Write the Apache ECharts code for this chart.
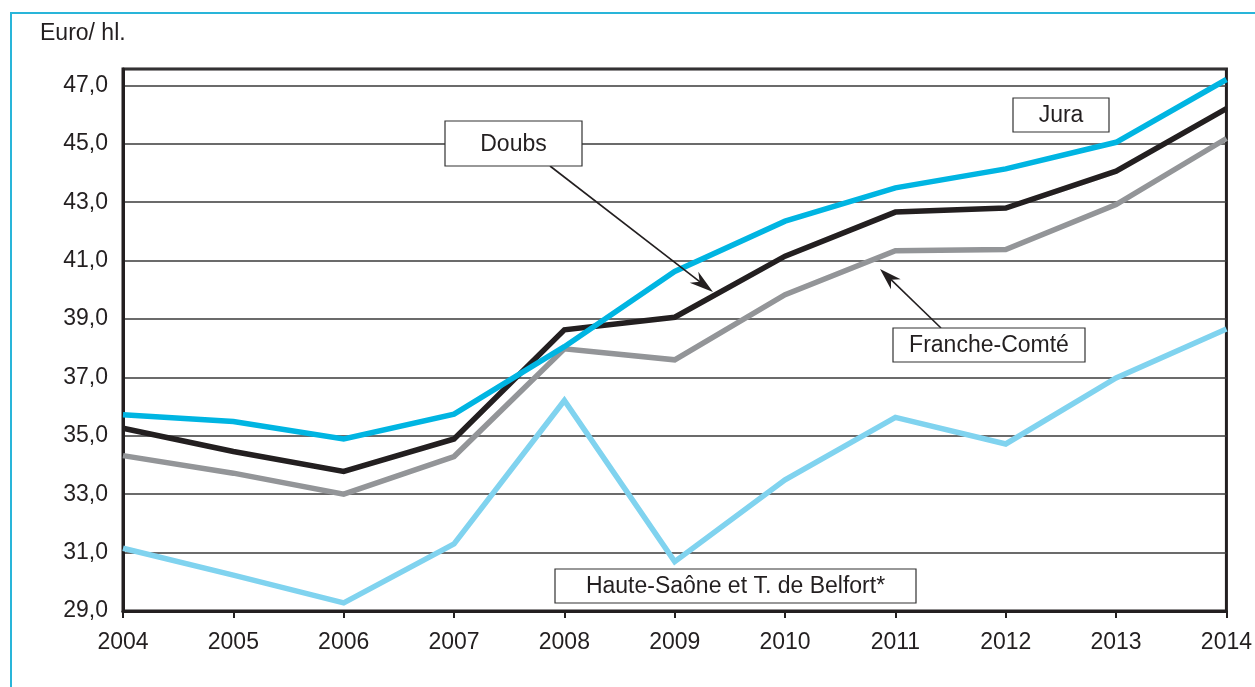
<!DOCTYPE html>
<html>
<head>
<meta charset="utf-8">
<script src="https://cdn.jsdelivr.net/npm/echarts@6/dist/echarts.min.js"></script>
<style>
  html, body { margin: 0; padding: 0; background: #fff; }
  #main { width: 1255px; height: 687px; }
</style>
</head>
<body>
<div id="main"></div>
<script>
var years = ['2004', '2005', '2006', '2007', '2008', '2009', '2010', '2011', '2012', '2013', '2014'];
var jura = [35.72, 35.49, 34.89, 35.74, 38.05, 40.63, 42.35, 43.49, 44.14, 45.05, 47.2];
var doubs = [35.26, 34.46, 33.78, 34.89, 38.63, 39.06, 41.15, 42.66, 42.8, 44.06, 46.2];
var franche = [34.32, 33.72, 33.0, 34.29, 37.98, 37.6, 39.83, 41.34, 41.38, 42.92, 45.18];
var haute = [31.15, 30.23, 29.28, 31.3, 36.21, 30.69, 33.49, 35.63, 34.72, 36.98, 38.66];
var yTicks = [29, 31, 33, 35, 37, 39, 41, 43, 45, 47];

var dark = '#231f20';
var font = 'Liberation Sans, Arial, sans-serif';

var myChart = echarts.init(document.getElementById('main'));

function arrow(x1, y1, x2, y2, len, half) {
    var dx = x2 - x1, dy = y2 - y1;
    var d = Math.sqrt(dx * dx + dy * dy);
    var ux = dx / d, uy = dy / d;
    var bx = x2 - ux * len, by = y2 - uy * len;
    var nx = -uy, ny = ux;
    return [{
        type: 'line',
        shape: { x1: x1, y1: y1, x2: x2 - ux * len * 0.6, y2: y2 - uy * len * 0.6 },
        style: { stroke: dark, lineWidth: 1.6 },
        z: 10
    }, {
        type: 'polygon',
        shape: { points: [[x2, y2], [bx + nx * half, by + ny * half], [x2 - ux * len * 0.7, y2 - uy * len * 0.7], [bx - nx * half, by - ny * half]] },
        style: { fill: dark },
        z: 10
    }];
}

function labelBox(x, y, w, h, text) {
    return [{
        type: 'rect',
        shape: { x: x, y: y, width: w, height: h },
        style: { fill: '#fff', stroke: '#333', lineWidth: 1.2 },
        z: 10
    }, {
        type: 'text',
        x: x + w / 2,
        y: y + h / 2 + 1,
        style: { text: text, fill: dark, font: '23px ' + font, textAlign: 'center', textVerticalAlign: 'middle' },
        z: 11
    }];
}

var graphics = [{
    type: 'rect',
    shape: { x: 11, y: 13, width: 1300, height: 720 },
    style: { fill: 'none', stroke: '#29b5d9', lineWidth: 2 },
    silent: true
}, {
    type: 'text',
    x: 40, y: 34,
    style: { text: 'Euro/ hl.', fill: dark, font: '23px ' + font, textVerticalAlign: 'middle' }
}];
graphics = graphics
    .concat(arrow(550, 166, 713, 292, 24, 7))
    .concat(arrow(941, 328, 880, 269, 22, 7))
    .concat(labelBox(445, 121, 137, 45, 'Doubs'))
    .concat(labelBox(1013, 98, 96, 34, 'Jura'))
    .concat(labelBox(893, 328, 192, 34, 'Franche-Comté'))
    .concat(labelBox(555, 569, 361, 34, 'Haute-Saône et T. de Belfort*'));

function lineSeries(name, data, color) {
    return {
        name: name,
        type: 'line',
        data: data,
        symbol: 'none',
        lineStyle: { color: color, width: 5.5, cap: 'butt', join: 'miter' },
        emphasis: { disabled: true },
        animation: false
    };
}

var option = {
    animation: false,
    grid: {
        left: 123, right: 27, top: 69, bottom: 76,
        show: true,
        borderColor: dark,
        borderWidth: 3,
        backgroundColor: 'transparent'
    },
    xAxis: {
        type: 'category',
        data: years,
        boundaryGap: false,
        axisLine: { lineStyle: { color: dark, width: 3 } },
        axisTick: { show: true, length: 7, lineStyle: { color: dark, width: 2 } },
        axisLabel: { color: dark, fontSize: 23, fontFamily: font, margin: 20 },
        splitLine: { show: false }
    },
    yAxis: {
        type: 'value',
        min: yTicks[0],
        max: 47.56,
        interval: 2,
        axisLine: { show: true, lineStyle: { color: dark, width: 3 } },
        axisTick: { show: false },
        axisLabel: {
            color: dark, fontSize: 23, fontFamily: font, margin: 15,
            showMaxLabel: false,
            formatter: function (v) { return v.toFixed(1).replace('.', ','); }
        },
        splitLine: { lineStyle: { color: '#3a3a3a', width: 1.5 } }
    },
    series: [
        lineSeries('Haute-Saône et T. de Belfort*', haute, '#80d3ef'),
        lineSeries('Franche-Comté', franche, '#939598'),
        lineSeries('Doubs', doubs, dark),
        lineSeries('Jura', jura, '#00b5e2')
    ],
    graphic: graphics
};

option && myChart.setOption(option);
</script>
</body>
</html>
